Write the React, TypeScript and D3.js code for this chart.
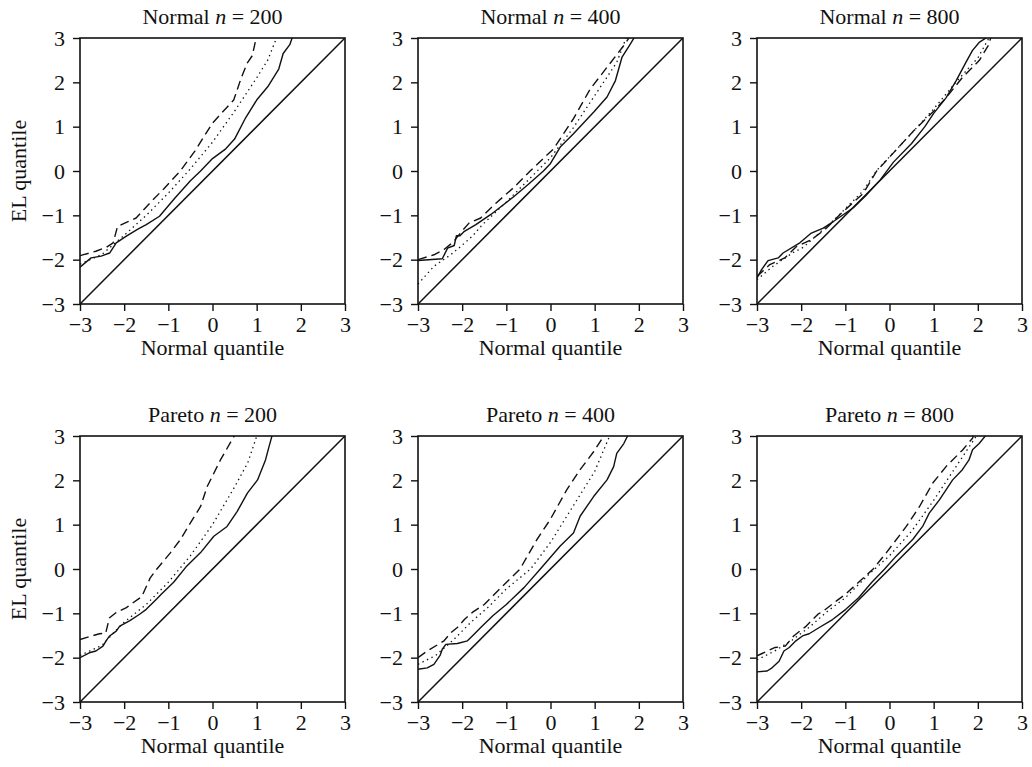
import React, { useEffect, useRef } from 'react';
import * as d3 from 'd3';

type Pt = [number, number];

// axis ticks shared by every panel
const tickValues = [-3, -2, -1, 0, 1, 2, 3];
const diagonal: Pt[] = [[-3, -3], [3, 3]];

// Normal n = 200
const normal200Solid: Pt[] = [[-3, -2.17], [-2.75, -1.96], [-2.52, -1.92], [-2.33, -1.85], [-2.18, -1.62], [-1.95, -1.47], [-1.69, -1.31], [-1.5, -1.21], [-1.2, -1.02], [-0.86, -0.62], [-0.5, -0.22], [-0.27, 0], [0, 0.28], [0.3, 0.5], [0.5, 0.72], [0.75, 1.2], [1.0, 1.6], [1.25, 1.9], [1.5, 2.3], [1.6, 2.65], [1.75, 2.85], [1.82, 3.05]];
const normal200Dotted: Pt[] = [[-3, -2.1], [-2.5, -1.88], [-2, -1.45], [-1.5, -1.0], [-1, -0.5], [-0.5, 0.05], [0, 0.65], [0.5, 1.35], [1.0, 2.1], [1.25, 2.5], [1.47, 3.05]];
const normal200Dashed: Pt[] = [[-3, -1.91], [-2.64, -1.81], [-2.4, -1.72], [-2.25, -1.62], [-2.15, -1.25], [-1.95, -1.16], [-1.73, -1.06], [-1.35, -0.65], [-1.1, -0.4], [-0.73, 0], [-0.4, 0.45], [0, 1.08], [0.2, 1.3], [0.48, 1.6], [0.65, 2.1], [0.79, 2.44], [0.9, 2.6], [1.0, 3.05]];

// Normal n = 400
const normal400Solid: Pt[] = [[-3, -2.02], [-2.45, -1.98], [-2.33, -1.74], [-2.18, -1.68], [-2.13, -1.46], [-2.05, -1.46], [-1.95, -1.36], [-1.69, -1.21], [-1.35, -0.98], [-0.82, -0.57], [-0.5, -0.3], [-0.16, 0], [0, 0.17], [0.22, 0.54], [0.52, 0.84], [0.98, 1.33], [1.28, 1.67], [1.47, 2.04], [1.62, 2.57], [1.81, 2.87], [1.92, 3.05]];
const normal400Dotted: Pt[] = [[-3, -2.55], [-2.64, -2.15], [-2.26, -1.89], [-2.03, -1.7], [-1.77, -1.47], [-1.54, -1.21], [-1, -0.7], [-0.3, 0], [0, 0.3], [0.5, 0.95], [1.0, 1.7], [1.5, 2.45], [1.73, 3.05]];
const normal400Dashed: Pt[] = [[-3, -2.0], [-2.64, -1.89], [-2.41, -1.77], [-2.2, -1.6], [-2.0, -1.35], [-1.84, -1.17], [-1.58, -1.06], [-1.23, -0.72], [-0.84, -0.38], [-0.46, 0], [0.07, 0.5], [0.52, 1.18], [0.9, 1.85], [1.28, 2.34], [1.66, 2.83], [1.81, 3.05]];

// Normal n = 800
const normal800Solid: Pt[] = [[-3, -2.41], [-2.9, -2.23], [-2.75, -2.02], [-2.52, -1.96], [-2.41, -1.85], [-2.03, -1.62], [-1.77, -1.4], [-1.5, -1.29], [-1.27, -1.14], [-0.82, -0.83], [-0.55, -0.57], [-0.21, -0.2], [0.09, 0.2], [0.5, 0.62], [0.8, 1.0], [1.0, 1.3], [1.28, 1.65], [1.51, 2.04], [1.73, 2.45], [1.88, 2.72], [2.03, 2.9], [2.26, 3.05]];
const normal800Dotted: Pt[] = [[-3, -2.45], [-2.64, -2.15], [-2.2, -1.85], [-1.95, -1.72], [-1.2, -1.05], [-0.6, -0.45], [-0.3, 0], [0.5, 0.85], [1.0, 1.4], [1.5, 2.0], [2.0, 2.55], [2.28, 3.05]];
const normal800Dashed: Pt[] = [[-3, -2.38], [-2.71, -2.11], [-2.37, -1.96], [-2.1, -1.7], [-1.77, -1.55], [-1.46, -1.32], [-1.12, -0.98], [-0.59, -0.5], [-0.29, 0], [0.1, 0.42], [0.54, 0.9], [1.0, 1.35], [1.28, 1.65], [1.66, 2.12], [2.03, 2.49], [2.26, 2.87], [2.3, 3.05]];

// Pareto n = 200
const pareto200Solid: Pt[] = [[-3, -2.0], [-2.79, -1.89], [-2.64, -1.85], [-2.48, -1.74], [-2.41, -1.62], [-2.33, -1.51], [-2.18, -1.4], [-2.1, -1.29], [-1.88, -1.17], [-1.65, -1.02], [-1.5, -0.91], [-1.27, -0.68], [-1.16, -0.57], [-0.88, -0.3], [-0.58, 0.07], [-0.27, 0.37], [0.03, 0.74], [0.33, 0.96], [0.56, 1.3], [0.79, 1.71], [1.02, 2.01], [1.2, 2.46], [1.28, 2.76], [1.36, 3.05]];
const pareto200Dotted: Pt[] = [[-3, -1.95], [-2.5, -1.72], [-2.2, -1.4], [-2, -1.2], [-1.5, -0.8], [-1.0, -0.3], [-0.5, 0.3], [0, 1.0], [0.5, 1.85], [0.8, 2.4], [1.02, 3.05]];
const pareto200Dashed: Pt[] = [[-3, -1.59], [-2.56, -1.46], [-2.42, -1.45], [-2.37, -1.25], [-2.33, -1.1], [-2.18, -0.98], [-1.95, -0.87], [-1.6, -0.62], [-1.41, -0.2], [-1.26, 0], [-0.95, 0.37], [-0.73, 0.66], [-0.5, 1.04], [-0.27, 1.41], [-0.12, 1.86], [0.18, 2.46], [0.52, 3.05]];

// Pareto n = 400
const pareto400Solid: Pt[] = [[-3, -2.26], [-2.79, -2.23], [-2.64, -2.15], [-2.5, -1.95], [-2.45, -1.81], [-2.37, -1.7], [-2.11, -1.68], [-1.88, -1.62], [-1.73, -1.47], [-1.58, -1.32], [-1.3, -1.05], [-1.0, -0.8], [-0.6, -0.42], [-0.23, 0], [0.22, 0.52], [0.52, 0.81], [0.67, 1.19], [0.98, 1.64], [1.28, 2.01], [1.43, 2.31], [1.5, 2.61], [1.66, 2.83], [1.77, 3.05]];
const pareto400Dotted: Pt[] = [[-3, -2.15], [-2.6, -1.95], [-2.2, -1.6], [-1.8, -1.2], [-1.4, -0.85], [-1.0, -0.45], [-0.45, 0], [0, 0.6], [0.5, 1.4], [1.0, 2.2], [1.36, 3.05]];
const pareto400Dashed: Pt[] = [[-3, -2.0], [-2.79, -1.85], [-2.41, -1.62], [-2.26, -1.44], [-2.11, -1.32], [-1.95, -1.14], [-1.77, -0.98], [-1.5, -0.8], [-1.27, -0.57], [-0.69, 0], [-0.31, 0.66], [-0.01, 1.11], [0.37, 1.79], [0.67, 2.24], [0.98, 2.65], [1.24, 3.05]];

// Pareto n = 800
const pareto800Solid: Pt[] = [[-3, -2.32], [-2.77, -2.3], [-2.66, -2.23], [-2.5, -2.08], [-2.39, -1.85], [-2.27, -1.77], [-2.12, -1.62], [-1.97, -1.51], [-1.82, -1.46], [-1.59, -1.32], [-1.29, -1.14], [-0.99, -0.91], [-0.7, -0.65], [-0.4, -0.3], [-0.11, 0], [0.15, 0.29], [0.53, 0.67], [0.75, 0.96], [0.9, 1.26], [1.13, 1.56], [1.43, 2.01], [1.65, 2.24], [1.8, 2.46], [1.88, 2.69], [2.03, 2.83], [2.21, 3.05]];
const pareto800Dotted: Pt[] = [[-3, -2.05], [-2.6, -1.85], [-2.2, -1.6], [-1.8, -1.3], [-1.4, -0.95], [-1.0, -0.65], [-0.5, -0.15], [0, 0.3], [0.5, 0.85], [1.0, 1.55], [1.5, 2.3], [2.0, 3.05]];
const pareto800Dashed: Pt[] = [[-3, -1.96], [-2.59, -1.77], [-2.36, -1.74], [-2.17, -1.51], [-1.9, -1.3], [-1.62, -1.02], [-1.5, -0.95], [-1.2, -0.72], [-1.0, -0.57], [-0.7, -0.3], [-0.37, 0], [-0.07, 0.37], [0.38, 0.96], [0.68, 1.41], [0.98, 1.94], [1.28, 2.31], [1.65, 2.68], [1.88, 2.95], [1.92, 3.05]];

const panels = [
  { dist: 'Normal', n: 200, solid: normal200Solid, dotted: normal200Dotted, dashed: normal200Dashed },
  { dist: 'Normal', n: 400, solid: normal400Solid, dotted: normal400Dotted, dashed: normal400Dashed },
  { dist: 'Normal', n: 800, solid: normal800Solid, dotted: normal800Dotted, dashed: normal800Dashed },
  { dist: 'Pareto', n: 200, solid: pareto200Solid, dotted: pareto200Dotted, dashed: pareto200Dashed },
  { dist: 'Pareto', n: 400, solid: pareto400Solid, dotted: pareto400Dotted, dashed: pareto400Dashed },
  { dist: 'Pareto', n: 800, solid: pareto800Solid, dotted: pareto800Dotted, dashed: pareto800Dashed },
];

const App = () => {
  const svgRef = useRef<SVGSVGElement>(null);

  useEffect(() => {
    const width = 1032;
    const height = 767;
    const lefts = [80, 418, 757];
    const tops = [38, 436];
    const w = 265;
    const h = 266;
    const font = '"Liberation Serif", "Times New Roman", serif';
    const ink = '#111';
    const fmt = d3.format('d');

    const svg = d3.select(svgRef.current)
      .attr('width', width)
      .attr('height', height);
    svg.selectAll('*').remove();

    svg.append('rect').attr('width', width).attr('height', height).attr('fill', '#fff');

    panels.forEach((p, i) => {
      const col = i % 3;
      const row = Math.floor(i / 3);
      const g = svg.append('g').attr('transform', `translate(${lefts[col]},${tops[row]})`);

      const x = d3.scaleLinear().domain([-3, 3]).range([0, w]);
      const y = d3.scaleLinear().domain([-3, 3]).range([h, 0]);

      const clipId = `clip-${i}`;
      g.append('clipPath').attr('id', clipId)
        .append('rect').attr('width', w).attr('height', h);

      const line = d3.line<Pt>().x(d => x(d[0])).y(d => y(d[1]));

      const plot = g.append('g').attr('clip-path', `url(#${clipId})`);
      const series = [
        { data: diagonal, dash: null, sw: 1.5 },
        { data: p.solid, dash: null, sw: 1.4 },
        { data: p.dotted, dash: '1.4 3.6', sw: 1.3 },
        { data: p.dashed, dash: '9 5', sw: 1.4 },
      ];
      series.forEach(s => {
        plot.append('path')
          .datum(s.data)
          .attr('fill', 'none')
          .attr('stroke', ink)
          .attr('stroke-width', s.sw)
          .attr('stroke-linejoin', 'round')
          .attr('stroke-dasharray', s.dash)
          .attr('d', line);
      });

      // frame
      g.append('rect')
        .attr('width', w).attr('height', h)
        .attr('fill', 'none').attr('stroke', ink).attr('stroke-width', 1.6);

      const xAxis = g.append('g')
        .attr('transform', `translate(0,${h})`)
        .call(d3.axisBottom(x).tickValues(tickValues).tickFormat(fmt).tickSize(7).tickPadding(5));
      const yAxis = g.append('g')
        .call(d3.axisLeft(y).tickValues(tickValues).tickFormat(fmt).tickSize(7).tickPadding(8));

      [xAxis, yAxis].forEach(ax => {
        ax.select('.domain').remove();
        ax.selectAll('line').attr('stroke', ink).attr('stroke-width', 1.4);
        ax.selectAll('text')
          .attr('fill', ink)
          .style('font-family', font)
          .style('font-size', '22px');
      });

      const title = g.append('text')
        .attr('x', w / 2).attr('y', -14)
        .attr('text-anchor', 'middle')
        .attr('fill', ink)
        .style('font-family', font)
        .style('font-size', '22px');
      title.append('tspan').text(`${p.dist} `);
      title.append('tspan').style('font-style', 'italic').text('n');
      title.append('tspan').text(` = ${p.n}`);

      g.append('text')
        .attr('x', w / 2).attr('y', h + 51)
        .attr('text-anchor', 'middle')
        .attr('fill', ink)
        .style('font-family', font)
        .style('font-size', '22px')
        .text('Normal quantile');

      if (col === 0) {
        g.append('text')
          .attr('transform', `translate(-54,${h / 2}) rotate(-90)`)
          .attr('text-anchor', 'middle')
          .attr('fill', ink)
          .style('font-family', font)
          .style('font-size', '22px')
          .text('EL quantile');
      }
    });
  }, []);

  return (
    <div style={{ position: 'absolute', left: 0, top: 0 }}>
      <svg ref={svgRef} style={{ display: 'block' }}></svg>
    </div>
  );
};

export default App;
